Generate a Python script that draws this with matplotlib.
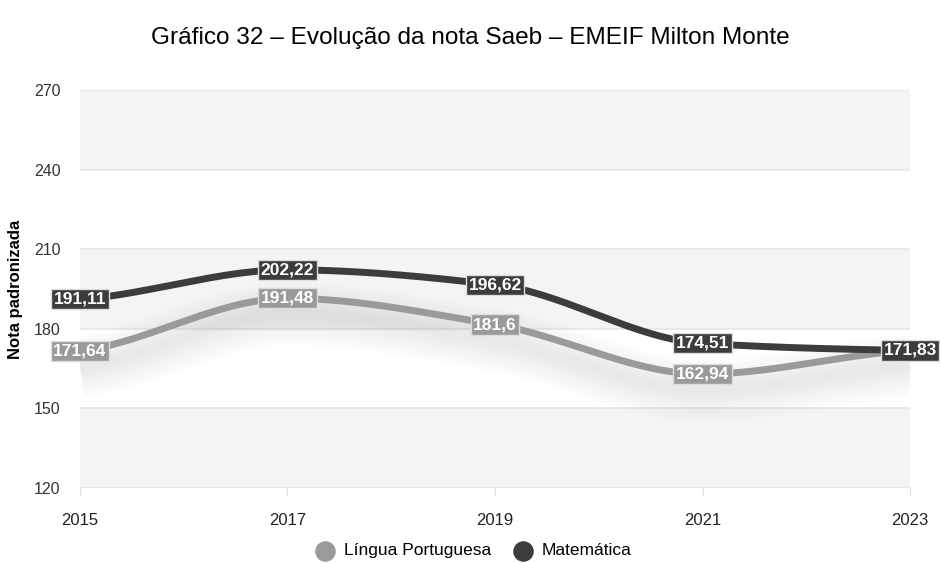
import numpy as np
import matplotlib.pyplot as plt

plt.rcParams['font.family'] = ['Liberation Sans', 'DejaVu Sans']

anos = [2015, 2017, 2019, 2021, 2023]
portugues = [171.64, 191.48, 181.6, 162.94, 171.83]
matematica = [191.11, 202.22, 196.62, 174.51, 171.83]
rotulos_pt = ["171,64", "191,48", "181,6", "162,94", ""]
rotulos_mat = ["191,11", "202,22", "196,62", "174,51", "171,83"]
yticks = [120, 150, 180, 210, 240, 270]

cor_pt = "#9a9a9a"
cor_mat = "#3c3c3c"


def suave(x, y, n=60):
    # curva monotona (pchip) so para desenhar a linha
    x = np.asarray(x, float)
    y = np.asarray(y, float)
    h = np.diff(x)
    d = np.diff(y) / h
    m = np.zeros_like(y)
    for i in range(1, len(y) - 1):
        if d[i - 1] * d[i] > 0:
            w1 = 2 * h[i] + h[i - 1]
            w2 = h[i] + 2 * h[i - 1]
            m[i] = (w1 + w2) / (w1 / d[i - 1] + w2 / d[i])
    m[0] = d[0] * 0.5
    m[-1] = d[-1] * 0.5
    xs, ys = [], []
    for i in range(len(x) - 1):
        t = np.linspace(0, 1, n)
        h00 = 2 * t**3 - 3 * t**2 + 1
        h10 = t**3 - 2 * t**2 + t
        h01 = -2 * t**3 + 3 * t**2
        h11 = t**3 - t**2
        xs.append(x[i] + t * h[i])
        ys.append(h00 * y[i] + h10 * h[i] * m[i] + h01 * y[i + 1] + h11 * h[i] * m[i + 1])
    return np.concatenate(xs), np.concatenate(ys)


fig = plt.figure(figsize=(9.4, 5.63), dpi=100)
ax = fig.add_axes([0.0851, 0.1332, 0.883, 0.707])

# faixas alternadas
for i, (a, b) in enumerate(zip(yticks[:-1], yticks[1:])):
    if i % 2 == 0:
        ax.axhspan(a, b, color="#f4f4f4", lw=0, zorder=0)
for t in yticks:
    ax.axhline(t, color="#e6e6e6", lw=1.2, zorder=1)

xp, yp = suave(anos, portugues)
xm, ym = suave(anos, matematica)

# sombra difusa sob as linhas
for lw in range(6, 50, 4):
    ax.plot(xp, yp - 6, color="#000000", alpha=0.009, lw=lw, solid_capstyle="butt", zorder=2)

ax.plot(xp, yp, color=cor_pt, lw=5, zorder=3, solid_capstyle="butt")
ax.plot(xm, ym, color=cor_mat, lw=5, zorder=4, solid_capstyle="butt")

for x, y, r in zip(anos, portugues, rotulos_pt):
    if r:
        ax.text(x, y, r, ha="center", va="center", color="white", fontsize=12.5,
                fontweight="bold", zorder=6,
                bbox=dict(boxstyle="square,pad=0.15", fc=cor_pt, ec="#dddddd", lw=1))
for x, y, r in zip(anos, matematica, rotulos_mat):
    ax.text(x, y, r, ha="center", va="center", color="white", fontsize=12.5,
            fontweight="bold", zorder=7, clip_on=False,
            bbox=dict(boxstyle="square,pad=0.15", fc=cor_mat, ec="#dddddd", lw=1))

ax.set_xlim(2015, 2023)
ax.set_ylim(120, 270)
ax.set_xticks(anos)
ax.set_yticks(yticks)
ax.tick_params(axis="x", length=6, color="#e0e0e0", labelsize=12, pad=12, labelcolor="#222222")
ax.tick_params(axis="y", length=0, labelsize=11.5, pad=14, labelcolor="#333333")
for s in ax.spines.values():
    s.set_visible(False)
ax.set_ylabel("Nota padronizada", fontsize=12, fontweight="bold", labelpad=8)

fig.suptitle("Gráfico 32 – Evolução da nota Saeb – EMEIF Milton Monte", y=0.952, fontsize=17.6)

hp = ax.scatter([], [], s=190, color=cor_pt, label="Língua Portuguesa")
hm = ax.scatter([], [], s=190, color=cor_mat, label="Matemática")
fig.legend(handles=[hp, hm], loc="center", bbox_to_anchor=(0.5, 0.022), ncol=2,
           frameon=False, fontsize=12.5, handletextpad=0.1, columnspacing=0.8)

fig.savefig("out.png", dpi=100)
